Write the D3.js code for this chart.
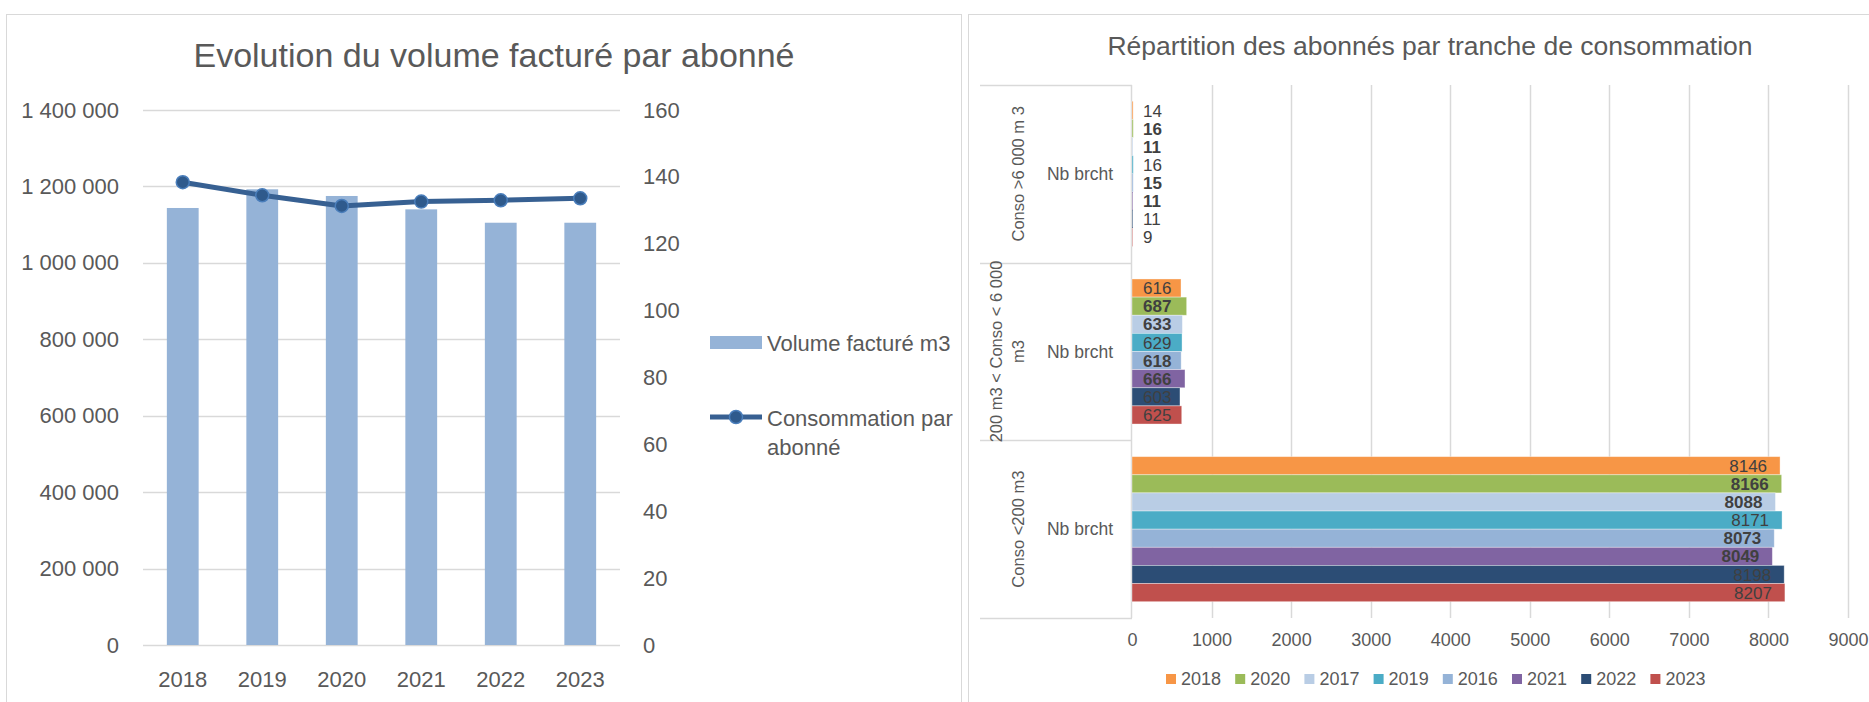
<!DOCTYPE html>
<html>
<head>
<meta charset="utf-8">
<script src="https://cdn.jsdelivr.net/npm/d3@7"></script>
<style>
  body { margin: 0; background: #fff; }
  text { font-family: "Liberation Sans", Arial, sans-serif; fill: #595959; }
</style>
</head>
<body>
<script>
// left chart data
var years = ["2018", "2019", "2020", "2021", "2022", "2023"];
var volumeFacture = [1143600, 1192500, 1175000, 1140000, 1105000, 1105000];
var consoParAbonne = [138.4, 134.5, 131.3, 132.6, 133.0, 133.6];
var leftTicks = [0, 200000, 400000, 600000, 800000, 1000000, 1200000, 1400000];
var rightTicks = [0, 20, 40, 60, 80, 100, 120, 140, 160];

// right chart data
var tranches = ["Conso >6 000 m 3", "200 m3 < Conso < 6 000 m3", "Conso <200 m3"];
var trancheLines = [["Conso >6 000 m 3"], ["200 m3 < Conso < 6 000", "m3"], ["Conso <200 m3"]];
var seriesYears = ["2018", "2020", "2017", "2019", "2016", "2021", "2022", "2023"];
var seriesColors = ["#F79646", "#9BBB59", "#B9CDE5", "#4BACC6", "#95B3D7", "#8064A2", "#2C4D75", "#C0504D"];
var boldSeries = ["2020", "2017", "2016", "2021"];
var v2018 = [14, 616, 8146];
var v2020 = [16, 687, 8166];
var v2017 = [11, 633, 8088];
var v2019 = [16, 629, 8171];
var v2016 = [15, 618, 8073];
var v2021 = [11, 666, 8049];
var v2022 = [11, 603, 8198];
var v2023 = [9, 625, 8207];
var hTicks = [0, 1000, 2000, 3000, 4000, 5000, 6000, 7000, 8000, 9000];

window.onload = function(){
    var w = 1869, h = 702;
    var svg = d3.select("body").append("svg")
        .attr("width", w)
        .attr("height", h);

    // panel frames
    svg.append("rect").attr("x", 6.5).attr("y", 14.5).attr("width", 955).attr("height", 720)
        .style("fill", "none").style("stroke", "#D9D9D9");
    svg.append("rect").attr("x", 968.5).attr("y", 14.5).attr("width", 920).attr("height", 720)
        .style("fill", "none").style("stroke", "#D9D9D9");

    // ---------- left chart ----------
    var fr = d3.formatLocale({decimal: ",", thousands: "\u00a0", grouping: [3], currency: ["", ""]});
    var fmt = fr.format(",");

    var x = d3.scaleBand().domain(years).range([143, 620]).paddingInner(0.6).paddingOuter(0.3);
    var yL = d3.scaleLinear().domain([0, 1400000]).range([645, 110]);
    var yR = d3.scaleLinear().domain([0, 160]).range([645, 110]);

    svg.append("text")
        .attr("x", 494).attr("y", 67)
        .attr("text-anchor", "middle")
        .style("font-size", "34px")
        .text("Evolution du volume facturé par abonné");

    // gridlines
    svg.append("g").selectAll("line")
        .data(leftTicks)
        .enter().append("line")
        .attr("x1", 143).attr("x2", 620)
        .attr("y1", function(d){ return Math.round(yL(d)) + 0.5; })
        .attr("y2", function(d){ return Math.round(yL(d)) + 0.5; })
        .style("stroke", "#D9D9D9").style("stroke-width", 1.5);

    var axL = svg.append("g").attr("transform", "translate(143,0)")
        .call(d3.axisLeft(yL).tickValues(leftTicks).tickSize(0).tickPadding(24).tickFormat(fmt));
    var axR = svg.append("g").attr("transform", "translate(620,0)")
        .call(d3.axisRight(yR).tickValues(rightTicks).tickSize(0).tickPadding(23));
    var axX = svg.append("g").attr("transform", "translate(0,645)")
        .call(d3.axisBottom(x).tickSize(0).tickPadding(26));
    [axL, axR, axX].forEach(function(a){
        a.select(".domain").remove();
        a.selectAll("text").style("font-size", "22px").style("fill", "#595959")
            .style("font-family", "'Liberation Sans', Arial, sans-serif");
    });

    // bars
    svg.append("g").selectAll("rect")
        .data(volumeFacture)
        .enter().append("rect")
        .attr("x", function(d, i){ return x(years[i]); })
        .attr("width", x.bandwidth())
        .attr("y", function(d){ return yL(d); })
        .attr("height", function(d){ return yL(0) - yL(d); })
        .style("fill", "#95B3D7");

    // line
    var line = d3.line()
        .x(function(d, i){ return x(years[i]) + x.bandwidth() / 2; })
        .y(function(d){ return yR(d); });
    svg.append("path")
        .datum(consoParAbonne)
        .attr("d", line)
        .style("fill", "none").style("stroke", "#376092").style("stroke-width", 5)
        .style("stroke-linejoin", "round");
    svg.append("g").selectAll("circle")
        .data(consoParAbonne)
        .enter().append("circle")
        .attr("cx", function(d, i){ return x(years[i]) + x.bandwidth() / 2; })
        .attr("cy", function(d){ return yR(d); })
        .attr("r", 6.5)
        .style("fill", "#2F5A8C").style("stroke", "#4A7EBB").style("stroke-width", 1.5);

    // legend
    svg.append("rect").attr("x", 710).attr("y", 336).attr("width", 52).attr("height", 13)
        .style("fill", "#95B3D7");
    svg.append("text").attr("x", 767).attr("y", 343).attr("dy", "0.35em")
        .style("font-size", "22px").text("Volume facturé m3");
    svg.append("line").attr("x1", 710).attr("x2", 762).attr("y1", 417).attr("y2", 417)
        .style("stroke", "#376092").style("stroke-width", 5);
    svg.append("circle").attr("cx", 736).attr("cy", 417).attr("r", 6.5)
        .style("fill", "#2F5A8C").style("stroke", "#4A7EBB").style("stroke-width", 1.5);
    var lg2 = svg.append("text").attr("x", 767).attr("y", 418).attr("dy", "0.35em")
        .style("font-size", "22px");
    lg2.append("tspan").attr("x", 767).text("Consommation par");
    lg2.append("tspan").attr("x", 767).attr("dy", 29).text("abonné");

    // ---------- right chart ----------
    var series = [v2018, v2020, v2017, v2019, v2016, v2021, v2022, v2023];
    var hx = d3.scaleLinear().domain([0, 9000]).range([1132, 1848]);
    var cat = d3.scaleBand().domain(tranches).range([85, 618]);
    var sub = d3.scaleBand().domain(seriesYears).range([0, cat.bandwidth()]).paddingOuter(0.9);
    var color = d3.scaleOrdinal().domain(seriesYears).range(seriesColors);

    svg.append("text")
        .attr("x", 1430).attr("y", 55)
        .attr("text-anchor", "middle")
        .style("font-size", "26.5px")
        .text("Répartition des abonnés par tranche de consommation");

    // vertical gridlines
    svg.append("g").selectAll("line")
        .data(hTicks.slice(1))
        .enter().append("line")
        .attr("x1", function(d){ return Math.round(hx(d)) + 0.5; })
        .attr("x2", function(d){ return Math.round(hx(d)) + 0.5; })
        .attr("y1", 85).attr("y2", 618)
        .style("stroke", "#D9D9D9").style("stroke-width", 1.5);

    // category separators
    var seps = tranches.map(function(t){ return cat(t); }).concat([618]);
    svg.append("g").selectAll("line")
        .data(seps)
        .enter().append("line")
        .attr("x1", 980).attr("x2", 1132)
        .attr("y1", function(d){ return Math.round(d) + 0.5; })
        .attr("y2", function(d){ return Math.round(d) + 0.5; })
        .style("stroke", "#D9D9D9").style("stroke-width", 1.5);
    svg.append("line").attr("x1", 1131.5).attr("x2", 1131.5).attr("y1", 85).attr("y2", 618)
        .style("stroke", "#D9D9D9").style("stroke-width", 1.5);

    var hax = svg.append("g").attr("transform", "translate(0,618)")
        .call(d3.axisBottom(hx).tickValues(hTicks).tickSize(0).tickPadding(15).tickFormat(d3.format("d")));
    hax.select(".domain").remove();
    hax.selectAll("text").style("font-size", "18px").style("fill", "#595959")
        .style("font-family", "'Liberation Sans', Arial, sans-serif");

    // category labels
    tranches.forEach(function(t, i){
        var cy = cat(t) + cat.bandwidth() / 2;
        var lines = trancheLines[i];
        var cx = lines.length > 1 ? 1007 : 1018;
        var lab = svg.append("text")
            .attr("transform", "translate(" + cx + "," + cy + ") rotate(-90)")
            .attr("text-anchor", "middle")
            .style("font-size", "16.5px");
        lines.forEach(function(l, j){
            lab.append("tspan").attr("x", 0)
                .attr("y", (j - (lines.length - 1) / 2) * 22)
                .attr("dy", "0.35em")
                .text(l);
        });
        svg.append("text").attr("x", 1080).attr("y", cy).attr("dy", "0.35em")
            .attr("text-anchor", "middle").style("font-size", "17.5px").text("Nb brcht");
    });

    // bars per series
    series.forEach(function(vals, s){
        var yr = seriesYears[s];
        var g = svg.append("g");
        g.selectAll("rect")
            .data(vals)
            .enter().append("rect")
            .attr("x", hx(0))
            .attr("y", function(d, i){ return cat(tranches[i]) + sub(yr); })
            .attr("width", function(d){ return hx(d) - hx(0); })
            .attr("height", sub.bandwidth())
            .style("fill", color(yr))
            .style("stroke", "rgba(255,255,255,0.45)").style("stroke-width", 0.8);
        g.selectAll("text")
            .data(vals)
            .enter().append("text")
            .attr("x", function(d){ return hx(d) - hx(0) > 200 ? hx(d) - 13 : hx(0) + 11; })
            .attr("y", function(d, i){ return cat(tranches[i]) + sub(yr) + sub.bandwidth() / 2; })
            .attr("dy", "0.36em")
            .attr("text-anchor", function(d){ return hx(d) - hx(0) > 200 ? "end" : "start"; })
            .style("font-size", "17px")
            .style("fill", "#404040")
            .style("font-weight", boldSeries.indexOf(yr) >= 0 ? "bold" : "normal")
            .text(function(d){ return d; });
    });

    // bottom legend
    var leg = svg.append("g").selectAll("g")
        .data(seriesYears)
        .enter().append("g")
        .attr("transform", function(d, i){ return "translate(" + (1166 + i * 69.2) + ",674)"; });
    leg.append("rect").attr("width", 10).attr("height", 10)
        .style("fill", function(d){ return color(d); });
    leg.append("text").attr("x", 15).attr("y", 5).attr("dy", "0.35em")
        .style("font-size", "18px").text(function(d){ return d; });
};
</script>
</body>
</html>
